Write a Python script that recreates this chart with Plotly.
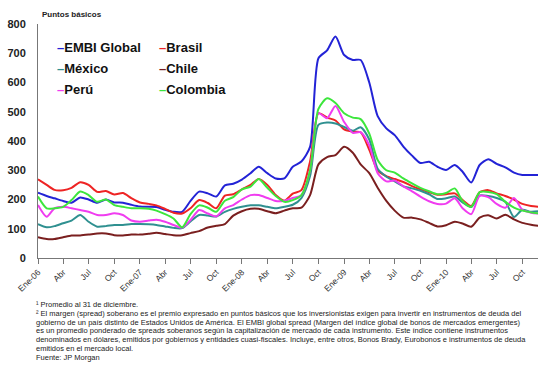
import pandas as pd
import plotly.graph_objects as go

# Monthly sovereign spreads (basis points), Jan 2006 - Dec 2010
months = pd.date_range("2006-01-01", periods=60, freq="MS")

embi = [223, 212, 204, 195, 189, 207, 200, 189, 200, 190, 189, 182,
        176, 175, 174, 165, 158, 158, 195, 227, 221, 210, 248, 254,
        268, 290, 312, 290, 272, 272, 312, 330, 380, 683, 710, 757,
        694, 677, 677, 600, 485, 443, 420, 381, 350, 325, 329, 312,
        301, 318, 295, 258, 318, 338, 322, 310, 292, 284, 284, 284]

brasil = [269, 250, 233, 232, 240, 259, 250, 226, 229, 217, 222, 205,
          190, 185, 180, 168, 155, 152, 170, 198, 188, 170, 213, 218,
          235, 250, 270, 250, 215, 196, 220, 232, 330, 495, 480, 470,
          440, 432, 430, 370, 300, 280, 270, 260, 246, 235, 225, 216,
          218, 221, 198, 178, 225, 232, 221, 212, 200, 185, 178, 175]

mexico = [116, 105, 109, 119, 128, 147, 124, 107, 109, 113, 113, 116,
          116, 115, 113, 108, 103, 102, 125, 147, 145, 142, 158, 168,
          175, 180, 180, 175, 170, 175, 182, 205, 280, 455, 463, 460,
          448, 435, 447, 405, 305, 278, 262, 245, 238, 230, 218, 202,
          204, 210, 190, 174, 214, 212, 205, 192, 140, 165, 158, 160]

chile = [71, 65, 65, 71, 77, 77, 80, 84, 84, 78, 77, 80,
         80, 83, 86, 82, 78, 78, 85, 92, 104, 110, 116, 145,
         160, 168, 168, 160, 153, 162, 170, 172, 215, 320, 345, 352,
         380, 360, 320, 290, 240, 195, 162, 138, 138, 132, 120, 108,
         112, 124, 118, 107, 138, 146, 135, 148, 132, 120, 114, 110]

peru = [181, 141, 170, 175, 170, 164, 158, 147, 147, 153, 147, 128,
        124, 128, 131, 124, 113, 104, 130, 164, 152, 142, 170, 181,
        200, 215, 215, 205, 195, 196, 205, 215, 300, 495, 478, 520,
        465, 428, 430, 385, 290, 262, 265, 245, 228, 210, 194, 185,
        186, 204, 170, 150, 212, 208, 185, 172, 205, 165, 155, 152]

colombia = [210, 170, 170, 175, 198, 227, 215, 192, 200, 181, 175, 170,
            170, 168, 162, 150, 135, 105, 150, 180, 172, 158, 196, 208,
            235, 244, 270, 240, 212, 192, 198, 215, 300, 510, 546, 530,
            495, 480, 475, 425, 335, 300, 292, 272, 255, 240, 228, 218,
            222, 238, 195, 175, 225, 226, 218, 192, 172, 162, 156, 152]

series_names = ["EMBI Global", "Brasil", "México", "Chile", "Perú", "Colombia"]
series_values = [embi, brasil, mexico, chile, peru, colombia]
series_colors = ["#2323d6", "#ee2424", "#2f9090", "#7a1f1f", "#f03cf0", "#3ce63c"]

# Quarterly tick labels
tick_dates = pd.date_range("2006-01-01", "2010-10-01", freq="QS")
tick_text = [f"Ene-{d.strftime('%y')}" if d.month == 1 else
             {4: "Abr", 7: "Jul", 10: "Oct"}[d.month] for d in tick_dates]

footnotes = [
    "¹ Promedio al 31 de diciembre.",
    "² El margen (spread) soberano es el premio expresado en puntos básicos que los inversionistas exigen para invertir en instrumentos de deuda del",
    "gobierno de un país distinto de Estados Unidos de América. El EMBI global spread (Margen del índice global de bonos de mercados emergentes)",
    "es un promedio ponderado de spreads soberanos según la capitalización de mercado de cada instrumento. Este índice contiene instrumentos",
    "denominados en dólares, emitidos por gobiernos y entidades cuasi-fiscales. Incluye, entre otros, Bonos Brady, Eurobonos e instrumentos de deuda",
    "emitidos en el mercado local.",
    "Fuente: JP Morgan",
]

W, H = 538, 367
ML, MR, MT, MB = 38, 0, 24, 109
PW, PH = W - ML - MR, H - MT - MB
FONT = "Liberation Sans, Arial, sans-serif"


def px_x(x):
    return (x - ML) / PW


def px_y(y):
    return (H - MB - y) / PH


fig = go.Figure()
for name, vals, color in zip(series_names, series_values, series_colors):
    fig.add_trace(go.Scatter(
        x=months, y=vals, name=name, mode="lines",
        line=dict(color=color, width=2, shape="spline", smoothing=0.7),
        showlegend=False,
    ))

annotations = []

# Axis caption
annotations.append(dict(
    x=px_x(40), y=px_y(15), xref="paper", yref="paper",
    xanchor="left", yanchor="middle", showarrow=False,
    text="<b>Puntos básicos</b>", font=dict(family=FONT, size=8, color="#222"),
))

# Series key in two columns
key_cols = [55, 157]
key_rows = [47, 68, 89]
for i, (name, color) in enumerate(zip(series_names, series_colors)):
    col, row = i % 2, i // 2
    annotations.append(dict(
        x=px_x(key_cols[col]), y=px_y(key_rows[row]), xref="paper", yref="paper",
        xanchor="left", yanchor="middle", showarrow=False,
        text=f"<span style='color:{color}'><b>–</b></span><b>{name}</b>",
        font=dict(family=FONT, size=13, color="#111"),
    ))

# Notes under the chart, one line each
note_top, note_step = 304.8, 8.7
for k, txt in enumerate(footnotes):
    annotations.append(dict(
        x=px_x(34), y=px_y(note_top + k * note_step), xref="paper", yref="paper",
        xanchor="left", yanchor="middle", showarrow=False,
        text=txt, font=dict(family=FONT, size=7.5, color="#222"),
    ))

fig.update_layout(
    width=W, height=H,
    margin=dict(l=ML, r=MR, t=MT, b=MB),
    paper_bgcolor="white", plot_bgcolor="white",
    font=dict(family=FONT, color="#222"),
    annotations=annotations,
    xaxis=dict(
        range=["2006-01-01", "2010-11-26"],
        tickmode="array", tickvals=tick_dates, ticktext=tick_text,
        tickangle=-45, tickfont=dict(size=8.5, color="#333"),
        ticks="outside", ticklen=5, tickcolor="#777",
        showline=True, linecolor="#777", linewidth=1,
        showgrid=False, zeroline=False,
    ),
    yaxis=dict(
        range=[0, 800], dtick=100,
        tickfont=dict(size=11, color="#222", family="Liberation Sans, Arial", weight="bold"),
        ticks="", ticklabelstandoff=9,
        showline=True, linecolor="#777", linewidth=1,
        showgrid=False, zeroline=False,
    ),
)

fig.write_html("out.html")
